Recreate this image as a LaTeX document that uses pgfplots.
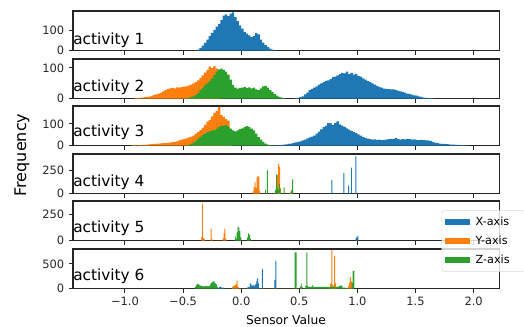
\documentclass[border=0pt]{standalone}
\usepackage{pgfplots}
\pgfplotsset{compat=1.18}
\usepackage{fontspec}
\setmainfont{DejaVu Sans}
\definecolor{cX}{HTML}{1F77B4}
\definecolor{cY}{HTML}{FF7F0E}
\definecolor{cZ}{HTML}{2CA02C}
\pgfplotsset{
  panel/.style={
    width=320pt, height=29.8pt, scale only axis,
    anchor=north west,
    xmin=-1.447, xmax=2.224, ymin=0,
    xtick={-1,-0.5,0,0.5,1,1.5,2},
    xticklabels={},
    tick pos=left, tick align=outside, major tick length=3pt,
    axis line style={black!85, line width=0.8pt},
    tick style={black!85, line width=0.8pt},
    /pgf/number format/assume math mode=true,
    ticklabel style={font=\fontsize{8.6}{10}\selectfont, text=black!85},
    clip=true,
  },
  hX/.style={const plot, fill=cX, draw=none},
  hY/.style={const plot, fill=cY, draw=none},
  hZ/.style={const plot, fill=cZ, draw=none},
}
\newcommand{\act}[2]{\node[anchor=base west, inner sep=0pt, font=\fontsize{11.5}{13}\selectfont] at (rel axis cs:0,#2) {activity #1};}
\begin{document}
\begin{tikzpicture}
\path[use as bounding box] (-54.75pt,8.25pt) rectangle (338.25pt,-236.25pt);

% activity 1
\begin{axis}[panel, at={(0pt,0pt)}, ymax=195, ytick={0,100}]
\addplot[hX] coordinates {(-0.40,2)(-0.38,6)(-0.36,14)(-0.34,25)(-0.32,38)(-0.30,55)(-0.28,72)(-0.26,88)(-0.24,102)(-0.22,118)(-0.20,132)(-0.18,150)(-0.16,172)(-0.14,178)(-0.12,170)(-0.10,182)(-0.08,188)(-0.06,165)(-0.04,145)(-0.02,125)(0.00,108)(0.02,92)(0.04,84)(0.06,75)(0.08,68)(0.10,72)(0.12,88)(0.14,80)(0.16,55)(0.18,40)(0.20,28)(0.22,18)(0.24,10)(0.26,5)(0.28,2)(0.30,0)} \closedcycle;
\act{1}{0.15}
\end{axis}

% activity 2
\begin{axis}[panel, at={(0pt,-36pt)}, ymax=129, ytick={0,100}]
\addplot[hX] coordinates {(0.46,2)(0.48,3)(0.50,5)(0.52,8)(0.54,14)(0.56,20)(0.58,28)(0.60,32)(0.62,36)(0.64,40)(0.66,46)(0.68,50)(0.70,54)(0.72,58)(0.74,60)(0.76,64)(0.78,70)(0.80,72)(0.82,76)(0.84,80)(0.86,84)(0.88,82)(0.90,88)(0.92,80)(0.94,84)(0.96,78)(0.98,80)(1.00,74)(1.02,72)(1.04,66)(1.06,62)(1.08,58)(1.10,54)(1.12,50)(1.14,46)(1.16,42)(1.18,38)(1.20,36)(1.22,33)(1.24,32)(1.26,31)(1.28,30)(1.30,30)(1.32,29)(1.34,26)(1.36,24)(1.38,22)(1.40,20)(1.42,17)(1.44,15)(1.46,13)(1.48,11)(1.50,10)(1.52,8)(1.54,6)(1.56,4)(1.58,3)(1.60,2)(1.62,2)(1.64,1)(1.66,0)} \closedcycle;
\addplot[hY] coordinates {(-0.92,2)(-0.90,3)(-0.88,3)(-0.86,4)(-0.84,5)(-0.82,6)(-0.80,7)(-0.78,9)(-0.76,12)(-0.74,14)(-0.72,17)(-0.70,20)(-0.68,24)(-0.66,28)(-0.64,32)(-0.62,34)(-0.60,35)(-0.58,34)(-0.56,37)(-0.54,36)(-0.52,38)(-0.50,39)(-0.48,40)(-0.46,43)(-0.44,46)(-0.42,50)(-0.40,54)(-0.38,60)(-0.36,68)(-0.34,76)(-0.32,85)(-0.30,94)(-0.28,104)(-0.26,100)(-0.24,106)(-0.22,98)(-0.20,75)(-0.18,0)} \closedcycle;
\addplot[hZ] coordinates {(-0.48,2)(-0.46,3)(-0.44,5)(-0.42,8)(-0.40,12)(-0.38,18)(-0.36,28)(-0.34,36)(-0.32,44)(-0.30,50)(-0.28,58)(-0.26,66)(-0.24,78)(-0.22,88)(-0.20,95)(-0.18,98)(-0.16,94)(-0.14,88)(-0.12,78)(-0.10,62)(-0.08,45)(-0.06,36)(-0.04,33)(-0.02,35)(0.00,36)(0.02,38)(0.04,35)(0.06,37)(0.08,34)(0.10,36)(0.12,30)(0.14,28)(0.16,34)(0.18,40)(0.20,42)(0.22,36)(0.24,28)(0.26,22)(0.28,15)(0.30,10)(0.32,6)(0.34,4)(0.36,2)(0.38,0)} \closedcycle;
\act{2}{0.18}
\end{axis}

% activity 3
\begin{axis}[panel, at={(0pt,-71.25pt)}, ymax=182, ytick={0,100}]
\addplot[hX] coordinates {(0.26,2)(0.28,2)(0.30,3)(0.32,3)(0.34,4)(0.36,5)(0.38,6)(0.40,8)(0.42,10)(0.44,12)(0.46,15)(0.48,18)(0.50,20)(0.52,24)(0.54,28)(0.56,34)(0.58,38)(0.60,42)(0.62,46)(0.64,55)(0.66,65)(0.68,75)(0.70,85)(0.72,92)(0.74,104)(0.76,102)(0.78,96)(0.80,104)(0.82,112)(0.84,98)(0.86,92)(0.88,86)(0.90,80)(0.92,74)(0.94,68)(0.96,62)(0.98,58)(1.00,52)(1.02,46)(1.04,40)(1.06,36)(1.08,33)(1.10,30)(1.12,28)(1.14,29)(1.16,27)(1.18,28)(1.20,26)(1.22,27)(1.24,28)(1.26,30)(1.28,32)(1.30,30)(1.32,36)(1.34,30)(1.36,28)(1.38,30)(1.40,29)(1.42,31)(1.44,30)(1.46,28)(1.48,29)(1.50,27)(1.52,26)(1.54,27)(1.56,26)(1.58,25)(1.60,24)(1.62,22)(1.64,18)(1.66,14)(1.68,12)(1.70,10)(1.72,9)(1.74,8)(1.76,7)(1.78,6)(1.80,5)(1.82,5)(1.84,4)(1.86,4)(1.88,3)(1.90,3)(1.92,2)(1.94,2)(1.96,0)} \closedcycle;
\addplot[hY] coordinates {(-0.94,3)(-0.92,4)(-0.90,2)(-0.88,3)(-0.86,4)(-0.84,4)(-0.82,5)(-0.80,6)(-0.78,7)(-0.76,9)(-0.74,9)(-0.72,10)(-0.70,11)(-0.68,12)(-0.66,12)(-0.64,13)(-0.62,14)(-0.60,16)(-0.58,18)(-0.56,20)(-0.54,24)(-0.52,28)(-0.50,30)(-0.48,34)(-0.46,38)(-0.44,42)(-0.42,46)(-0.40,55)(-0.38,62)(-0.36,72)(-0.34,82)(-0.32,96)(-0.30,110)(-0.28,118)(-0.26,135)(-0.24,150)(-0.22,160)(-0.20,178)(-0.18,140)(-0.16,132)(-0.14,122)(-0.12,115)(-0.10,60)(-0.08,0)} \closedcycle;
\addplot[hZ] coordinates {(-0.48,2)(-0.46,4)(-0.44,8)(-0.42,14)(-0.40,22)(-0.38,32)(-0.36,42)(-0.34,50)(-0.32,56)(-0.30,62)(-0.28,66)(-0.26,70)(-0.24,72)(-0.22,78)(-0.20,86)(-0.18,92)(-0.16,90)(-0.14,94)(-0.12,88)(-0.10,78)(-0.08,70)(-0.06,66)(-0.04,70)(-0.02,76)(0.00,80)(0.02,86)(0.04,90)(0.06,86)(0.08,78)(0.10,70)(0.12,55)(0.14,40)(0.16,28)(0.18,18)(0.20,10)(0.22,5)(0.24,3)(0.26,1)(0.28,0)} \closedcycle;
\act{3}{0.23}
\end{axis}

% activity 4
\begin{axis}[panel, at={(0pt,-107.25pt)}, ymax=424, ytick={0,250}]
\addplot[hX] coordinates {(0.700,0)(0.776,149)(0.784,0)(0.880,221)(0.888,0)(0.920,87)(0.928,0)(0.945,279)(0.953,0)(0.982,400)(0.990,0)} \closedcycle;
\addplot[hY] coordinates {(0.100,25)(0.108,70)(0.116,120)(0.124,60)(0.132,175)(0.140,185)(0.148,185)(0.156,30)(0.164,0)(0.310,200)(0.318,322)(0.326,287)(0.334,60)(0.342,0)(0.420,15)(0.428,40)(0.436,0)} \closedcycle;
\addplot[hZ] coordinates {(0.205,40)(0.213,0)(0.221,250)(0.229,0)(0.292,40)(0.300,206)(0.308,60)(0.316,40)(0.324,108)(0.332,50)(0.340,0)(0.365,69)(0.373,0)(0.430,30)(0.438,152)(0.446,0)} \closedcycle;
\act{4}{0.175}
\end{axis}

% activity 5
\begin{axis}[panel, at={(0pt,-142.5pt)}, ymax=380, ytick={0,250}]
\addplot[hX] coordinates {(0.985,25)(0.993,40)(1.001,46)(1.009,0)} \closedcycle;
\addplot[hY] coordinates {(-0.345,37)(-0.337,356)(-0.329,25)(-0.321,15)(-0.313,0)(-0.263,117)(-0.255,15)(-0.247,0)(-0.160,22)(-0.152,74)(-0.144,117)(-0.136,20)(-0.128,0)} \closedcycle;
\addplot[hZ] coordinates {(-0.055,46)(-0.047,20)(-0.039,80)(-0.031,135)(-0.023,120)(-0.015,93)(-0.007,33)(0.001,0)(0.052,33)(0.060,70)(0.068,55)(0.076,20)(0.084,0)} \closedcycle;
\act{5}{0.21}
\end{axis}

% activity 6
\begin{axis}[panel, at={(0pt,-178.5pt)}, ymax=800, ytick={0,500},
  xticklabels={−1.0,−0.5,0.0,0.5,1.0,1.5,2.0},
  legend style={at={(0.864,1.975)}, anchor=north west, draw=black!15, rounded corners=2pt,
    fill=white, fill opacity=0.8, text opacity=1,
    font=\fontsize{8.4}{10}\selectfont, inner xsep=2pt, inner ysep=3.5pt,
    row sep=4.5pt, nodes={inner ysep=1pt, inner xsep=4pt}},
  legend image code/.code={\fill[#1, sharp corners, fill opacity=1] (1.5pt,-2.4pt) rectangle (20.8pt,2.4pt);},
  legend cell align=left]
\addplot[hX] coordinates {(-0.190,40)(-0.170,20)(-0.150,0)(0.050,20)(0.058,40)(0.066,30)(0.074,120)(0.082,90)(0.090,60)(0.098,80)(0.106,50)(0.114,67)(0.122,100)(0.130,160)(0.138,207)(0.146,107)(0.154,0)(0.178,400)(0.186,0)(0.286,180)(0.294,560)(0.302,0)} \closedcycle;
\addplot[hY] coordinates {(-0.080,30)(-0.070,60)(-0.060,67)(-0.050,90)(-0.040,167)(-0.030,40)(-0.020,0)(0.765,100)(0.773,107)(0.777,780)(0.785,80)(0.793,60)(0.800,667)(0.808,107)(0.816,40)(0.824,0)(0.920,60)(0.928,120)(0.936,233)(0.944,150)(0.952,0)} \closedcycle;
\addplot[hZ] coordinates {(-0.40,30)(-0.39,80)(-0.38,100)(-0.37,90)(-0.36,70)(-0.35,60)(-0.34,55)(-0.33,50)(-0.32,50)(-0.31,55)(-0.30,52)(-0.29,50)(-0.28,55)(-0.27,90)(-0.26,120)(-0.25,140)(-0.24,160)(-0.23,120)(-0.22,87)(-0.21,40)(-0.20,15)(-0.19,0)(0.460,733)(0.468,733)(0.476,0)(0.505,50)(0.513,107)(0.521,40)(0.529,0)(0.553,60)(0.561,733)(0.569,60)(0.577,40)(0.600,45)(0.610,67)(0.620,40)(0.630,38)(0.700,36)(0.760,38)(0.840,60)(0.860,67)(0.870,20)(0.900,15)(0.920,0)(0.950,120)(0.958,360)(0.966,367)(0.974,0)} \closedcycle;
\legend{X-axis\hspace*{6pt},Y-axis\hspace*{6pt},Z-axis\hspace*{6pt}}
\act{6}{0.2}
\end{axis}

\node[rotate=90, font=\fontsize{12}{14}\selectfont, inner sep=0pt] at (-38.25pt,-108pt) {Frequency};
\node[anchor=north, font=\fontsize{9.2}{11}\selectfont, inner sep=0pt] at (159.75pt,-228pt) {Sensor Value};
\end{tikzpicture}
\end{document}
